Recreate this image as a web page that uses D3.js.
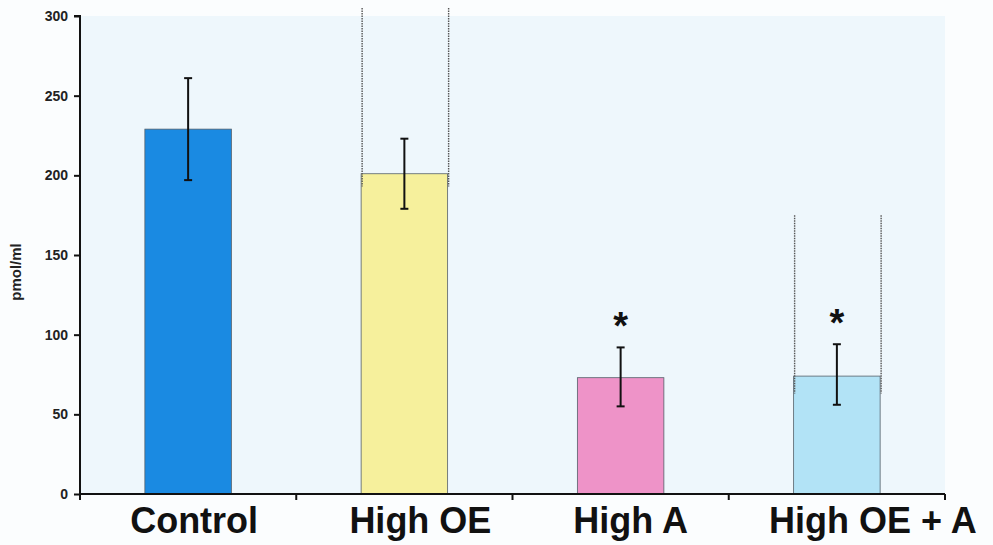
<!DOCTYPE html>
<html><head><meta charset="utf-8">
<script src="https://cdn.jsdelivr.net/npm/d3@7"></script>
<style>html,body{margin:0;padding:0;background:#fbfdfe;}svg{display:block;font-family:"Liberation Sans",Arial,sans-serif;}</style>
</head><body>
<svg id="c" width="993" height="545"></svg>
<script>
const categories = ["Control", "High OE", "High A", "High OE + A"];
const means = [229, 201, 73, 74];
const errLow = [197, 179, 55, 56];
const errHigh = [261, 223, 92, 94];
const significant = [false, false, true, true];
const colors = ["#1a8ae2", "#f6f09c", "#ee93c8", "#b2e3f6"];
const yTicks = [0, 50, 100, 150, 200, 250, 300];
// dotted guide lines (value extents) for groups 1 and 3
const guideTop = [null, 305, null, 175];
const guideBottom = [null, 193, null, 63];

const svg = d3.select("#c");
const m = {l: 80, r: 48, t: 16, b: 51};
const W = 993, H = 545;
const labelShift = [6, 16, 10, 36];
const x = d3.scaleBand().domain(categories).range([m.l, W - m.r]).paddingInner(0.6).paddingOuter(0.3);
const y = d3.scaleLinear().domain([0, 300]).range([H - m.b, m.t]);

svg.append("rect").attr("x", m.l).attr("y", m.t).attr("width", W - m.r - m.l).attr("height", H - m.b - m.t).attr("fill", "#eef7fc");

// bars
svg.selectAll("rect.bar").data(categories).join("rect").attr("class", "bar")
  .attr("x", d => x(d)).attr("width", x.bandwidth())
  .attr("y", (d, i) => y(means[i])).attr("height", (d, i) => y(0) - y(means[i]))
  .attr("fill", (d, i) => colors[i]).attr("stroke", "#55606a").attr("stroke-width", 0.8);

// dotted guides
categories.forEach((c, i) => {
  if (guideTop[i] == null) return;
  const y1 = Math.max(y(guideTop[i]), 8), y2 = y(guideBottom[i]);
  [x(c) + 1, x(c) + x.bandwidth() + 1].forEach(xx => {
    svg.append("line").attr("x1", xx).attr("x2", xx).attr("y1", y1).attr("y2", y2)
      .attr("stroke", "#555").attr("stroke-width", 1.4).attr("stroke-dasharray", "1.5,1");
  });
});

// error bars
categories.forEach((c, i) => {
  const cx = x(c) + x.bandwidth() / 2;
  const g = svg.append("g").attr("stroke", "#111").attr("stroke-width", 2);
  g.append("line").attr("x1", cx).attr("x2", cx).attr("y1", y(errLow[i])).attr("y2", y(errHigh[i]));
  g.append("line").attr("x1", cx - 4).attr("x2", cx + 4).attr("y1", y(errLow[i])).attr("y2", y(errLow[i]));
  g.append("line").attr("x1", cx - 4).attr("x2", cx + 4).attr("y1", y(errHigh[i])).attr("y2", y(errHigh[i]));
  if (significant[i]) {
    svg.append("text").attr("x", cx).attr("y", y(errHigh[i]) - 8).attr("text-anchor", "middle")
      .attr("font-size", 38).attr("font-weight", "bold").attr("fill", "#111").text("*");
  }
});

// y axis
const ya = svg.append("g").attr("transform", `translate(${m.l},0)`)
  .call(d3.axisLeft(y).tickValues(yTicks).tickSize(6).tickPadding(6));
ya.select(".domain").attr("stroke", "#111").attr("stroke-width", 2).attr("d", `M-6,${y(300)}H0V${y(0) + 6}`);
ya.selectAll(".tick line").attr("stroke", "#111").attr("stroke-width", 2);
ya.selectAll(".tick text").attr("font-size", 14).attr("font-weight", "bold").attr("fill", "#222")
  .attr("font-family", '"Liberation Sans",Arial,sans-serif');

// x axis
const xa = svg.append("g").attr("transform", `translate(0,${y(0)})`);
xa.append("line").attr("x1", m.l).attr("x2", W - m.r).attr("y1", 0).attr("y2", 0).attr("stroke", "#111").attr("stroke-width", 2);
const edges = categories.map((c, i) => m.l + (i + 1) * (W - m.r - m.l) / categories.length);
edges.forEach(e => xa.append("line").attr("x1", e).attr("x2", e).attr("y1", 0).attr("y2", 6).attr("stroke", "#111").attr("stroke-width", 2));
xa.selectAll("text.cat").data(categories).join("text").attr("class", "cat")
  .attr("x", (d, i) => x(d) + x.bandwidth() / 2 + labelShift[i]).attr("y", 39).attr("text-anchor", "middle")
  .attr("font-size", 36).attr("font-weight", "bold").attr("fill", "#111").text(d => d);

// y title
svg.append("text").attr("transform", "translate(21,272) rotate(-90)").attr("text-anchor", "middle")
  .attr("font-size", 15).attr("font-weight", "bold").attr("fill", "#222").text("pmol/ml");
</script>
</body></html>
